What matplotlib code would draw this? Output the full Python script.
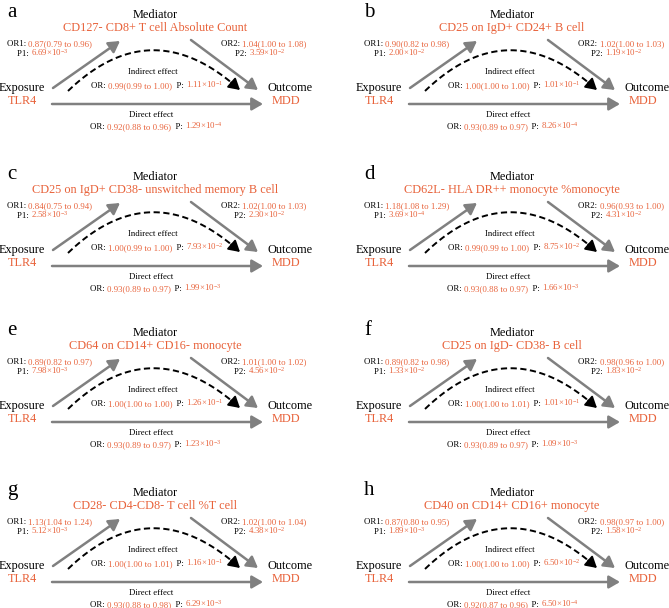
import numpy as np
import matplotlib
matplotlib.use("Agg")
import matplotlib.pyplot as plt

plt.rcParams['font.family'] = ['Liberation Serif', 'DejaVu Serif']
plt.rcParams['mathtext.fontset'] = 'custom'
plt.rcParams['mathtext.rm'] = 'Liberation Serif'
plt.rcParams['mathtext.it'] = 'Liberation Serif'

panels = ["a", "b", "c", "d", "e", "f", "g", "h"]
mediators = [
    "CD127- CD8+ T cell Absolute Count",
    "CD25 on IgD+ CD24+ B cell",
    "CD25 on IgD+ CD38- unswitched memory B cell",
    "CD62L- HLA DR++ monocyte %monocyte",
    "CD64 on CD14+ CD16- monocyte",
    "CD25 on IgD- CD38- B cell",
    "CD28- CD4-CD8- T cell %T cell",
    "CD40 on CD14+ CD16+ monocyte",
]
exposure = "TLR4"
outcome = "MDD"

# OR (estimate, lower, upper)
or1 = [(0.87, 0.79, 0.96), (0.90, 0.82, 0.98), (0.84, 0.75, 0.94), (1.18, 1.08, 1.29),
       (0.89, 0.82, 0.97), (0.89, 0.82, 0.98), (1.13, 1.04, 1.24), (0.87, 0.80, 0.95)]
or2 = [(1.04, 1.00, 1.08), (1.02, 1.00, 1.03), (1.02, 1.00, 1.03), (0.96, 0.93, 1.00),
       (1.01, 1.00, 1.02), (0.98, 0.96, 1.00), (1.02, 1.00, 1.04), (0.98, 0.97, 1.00)]
or_ind = [(0.99, 0.99, 1.00), (1.00, 1.00, 1.00), (1.00, 0.99, 1.00), (0.99, 0.99, 1.00),
          (1.00, 1.00, 1.00), (1.00, 1.00, 1.01), (1.00, 1.00, 1.01), (1.00, 1.00, 1.00)]
or_dir = [(0.92, 0.88, 0.96), (0.93, 0.89, 0.97), (0.93, 0.89, 0.97), (0.93, 0.88, 0.97),
          (0.93, 0.89, 0.97), (0.93, 0.89, 0.97), (0.93, 0.88, 0.98), (0.92, 0.87, 0.96)]
# P (mantissa, exponent)
p1 = [(6.69, -3), (2.00, -2), (2.58, -3), (3.69, -4), (7.98, -3), (1.33, -2), (5.12, -3), (1.89, -3)]
p2 = [(3.59, -2), (1.19, -2), (2.30, -2), (4.31, -2), (4.56, -2), (1.83, -2), (4.38, -2), (1.58, -2)]
p_ind = [(1.11, -1), (1.01, -1), (7.93, -2), (8.75, -2), (1.26, -1), (1.01, -1), (1.16, -1), (6.50, -2)]
p_dir = [(1.29, -4), (8.26, -4), (1.99, -3), (1.66, -3), (1.23, -3), (1.09, -3), (6.29, -3), (6.50, -4)]

ORANGE = "#E8623A"
GRAY = "#808080"
BIG = 8.8
SMALL = 6.3

W, H = 669, 608
fig = plt.figure(figsize=(W / 100, H / 100), dpi=100)
ax = fig.add_axes([0, 0, 1, 1])
ax.set_xlim(0, W)
ax.set_ylim(H, 0)
ax.axis("off")
r = fig.canvas.get_renderer()


def textw(s, size):
    t = ax.text(0, 0, s + "|", fontsize=size)
    w1 = t.get_window_extent(r).width
    t.set_text("|")
    w2 = t.get_window_extent(r).width
    t.remove()
    return w1 - w2


def rich(x, y, parts, size=SMALL, ha="left"):
    # parts: list of (text, color), drawn one after another on one baseline
    total = textw("".join(s for s, c in parts), size)
    if ha == "center":
        x = x - total / 2
    done = ""
    for s, c in parts:
        ax.text(x + textw(done, size) if done else x, y, s, color=c,
                fontsize=size, va="baseline", ha="left")
        done += s


def ci(v):
    return "%.2f(%.2f to %.2f)" % v


def pv(v):
    return "%.2f×10$^{%d}$" % v


def arrow(x0, y0, x1, y1, color=GRAY, lw=1.8):
    ax.annotate("", xy=(x1, y1), xytext=(x0, y0),
                arrowprops=dict(arrowstyle="-|>,head_length=0.55,head_width=0.32",
                                color=color, lw=lw, shrinkA=0, shrinkB=0,
                                mutation_scale=12))


col_x = [0, 357]
row_y = [0, 162, 318, 478]

for i in range(8):
    ox = col_x[i % 2]
    oy = row_y[i // 2]

    ax.text(ox + 7, oy + 17, panels[i], fontsize=15, va="baseline", ha="left")
    ax.text(ox + 155, oy + 18, "Mediator", fontsize=BIG, ha="center", va="baseline")
    ax.text(ox + 155, oy + 31, mediators[i], fontsize=BIG, ha="center",
            va="baseline", color=ORANGE)

    ax.text(ox + 22, oy + 91, "Exposure", fontsize=BIG, ha="center", va="baseline")
    ax.text(ox + 22, oy + 104, exposure, fontsize=BIG, ha="center", va="baseline",
            color=ORANGE)
    ax.text(ox + 290, oy + 91, "Outcome", fontsize=BIG, ha="center", va="baseline")
    ax.text(ox + 286, oy + 104, outcome, fontsize=BIG, ha="center", va="baseline",
            color=ORANGE)

    rich(ox + 7, oy + 46, [("OR1: ", "black"), (ci(or1[i]), ORANGE)])
    rich(ox + 17, oy + 56, [("P1: ", "black"), (pv(p1[i]), ORANGE)])
    rich(ox + 264, oy + 46, [("OR2: ", "black"), (ci(or2[i]), ORANGE)], ha="center")
    rich(ox + 260, oy + 56, [("P2: ", "black"), (pv(p2[i]), ORANGE)], ha="center")

    ax.text(ox + 153, oy + 74, "Indirect effect", fontsize=SMALL, ha="center",
            va="baseline")
    rich(ox + 156, oy + 88, [("OR: ", "black"), (ci(or_ind[i]), ORANGE),
                             ("  P: ", "black"), (pv(p_ind[i]), ORANGE)], ha="center")
    ax.text(ox + 151, oy + 117, "Direct effect", fontsize=SMALL, ha="center",
            va="baseline")
    rich(ox + 155, oy + 129, [("OR: ", "black"), (ci(or_dir[i]), ORANGE),
                              ("  P: ", "black"), (pv(p_dir[i]), ORANGE)], ha="center")

    # paths
    arrow(ox + 53, oy + 88, ox + 120, oy + 41)
    arrow(ox + 191, oy + 40, ox + 258, oy + 90)
    arrow(ox + 52, oy + 104, ox + 263, oy + 104)

    # indirect (dashed curve)
    p0 = np.array([ox + 68, oy + 91])
    pc = np.array([ox + 152, oy + 10])
    pe = np.array([ox + 240, oy + 90])
    t = np.linspace(0, 0.95, 80)[:, None]
    pts = (1 - t) ** 2 * p0 + 2 * (1 - t) * t * pc + t ** 2 * pe
    ax.plot(pts[:, 0], pts[:, 1], color="black", lw=1.4, ls=(0, (3.2, 1.8)))
    arrow(pts[-1, 0], pts[-1, 1], pe[0], pe[1], color="black", lw=1.4)

fig.savefig("out.png", dpi=100)
